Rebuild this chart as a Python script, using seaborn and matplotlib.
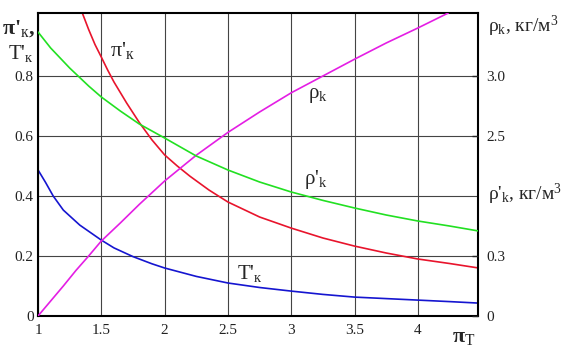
import numpy as np
import pandas as pd
import matplotlib
matplotlib.use("Agg")
import matplotlib.pyplot as plt
import seaborn as sns

# values
# pi'_k (left axis)
x_pik = [1.35, 1.4, 1.45, 1.5, 1.55, 1.6, 1.7, 1.8, 1.9, 2.0, 2.1, 2.2, 2.35, 2.5, 2.75, 3.0, 3.25, 3.5, 3.75, 4.0, 4.25, 4.48]
pik = [1.01, 0.955, 0.905, 0.863, 0.82, 0.78, 0.71, 0.645, 0.587, 0.537, 0.5, 0.466, 0.42, 0.38, 0.33, 0.293, 0.26, 0.233, 0.21, 0.19, 0.175, 0.16]

# T'_k (left axis)
x_tk = [1.0, 1.06, 1.12, 1.2, 1.33, 1.5, 1.6, 1.75, 1.9, 2.0, 2.25, 2.5, 2.75, 3.0, 3.25, 3.5, 3.75, 4.0, 4.25, 4.48]
tk = [0.487, 0.445, 0.40, 0.353, 0.303, 0.253, 0.227, 0.198, 0.174, 0.16, 0.132, 0.11, 0.095, 0.083, 0.072, 0.063, 0.058, 0.053, 0.048, 0.043]

# rho'_k, kg/m3 (right, lower scale)
x_rhop = [1.0, 1.1, 1.25, 1.4, 1.5, 1.65, 1.8, 2.0, 2.25, 2.5, 2.75, 3.0, 3.25, 3.5, 3.75, 4.0, 4.25, 4.48]
rhop = [1.42, 1.34, 1.24, 1.15, 1.095, 1.025, 0.96, 0.89, 0.80, 0.73, 0.67, 0.62, 0.578, 0.54, 0.505, 0.475, 0.45, 0.425]

# rho_k, kg/m3 (right, upper scale)
x_rho = [1.0, 1.1, 1.2, 1.3, 1.4, 1.5, 1.65, 1.8, 2.0, 2.25, 2.5, 2.75, 3.0, 3.25, 3.5, 3.75, 4.0, 4.24]
rho = [1.0, 1.125, 1.25, 1.38, 1.5, 1.625, 1.775, 1.93, 2.125, 2.34, 2.53, 2.70, 2.86, 3.0, 3.14, 3.275, 3.40, 3.525]

x_ticks = [1, 1.5, 2, 2.5, 3, 3.5, 4]
x_ticklabels = ["1", "1.5", "2", "2.5", "3", "3.5", "4"]
left_ticks = [0, 0.2, 0.4, 0.6, 0.8]
left_ticklabels = ["0", "0.2", "0.4", "0.6", "0.8"]
rho_ticks = [2.5, 3.0]
rhop_ticks = [0, 0.3]

sns.set_style("white")
plt.rcParams["font.family"] = ["Liberation Serif", "DejaVu Serif"]
plt.rcParams["mathtext.fontset"] = "custom"
plt.rcParams["mathtext.rm"] = "Liberation Serif"
plt.rcParams["mathtext.it"] = "Liberation Serif:italic"
plt.rcParams["mathtext.bf"] = "Liberation Serif:bold"

fig = plt.figure(figsize=(5.64, 3.55), dpi=100)
ax = fig.add_axes([38 / 564, 39 / 355, 440 / 564, 303 / 355])
ax_rho = ax.twinx()
ax_rhop = ax.twinx()

lw = 1.2
sns.lineplot(x=x_pik, y=pik, ax=ax, color="#e8142c", linewidth=lw)
sns.lineplot(x=x_tk, y=tk, ax=ax, color="#1515d0", linewidth=lw)
sns.lineplot(x=x_rhop, y=rhop, ax=ax_rhop, color="#22e022", linewidth=lw)
sns.lineplot(x=x_rho, y=rho, ax=ax_rho, color="#e41ee4", linewidth=lw)

top = 1.01
ax.set_xlim(1, 4.475)
ax.set_ylim(0, top)
ax_rho.set_ylim(1.0, 1.0 + 2.5 * top)
ax_rhop.set_ylim(0, 1.5 * top)

ax.set_xticks(x_ticks)
ax.set_xticklabels(x_ticklabels)
ax.set_yticks(left_ticks)
ax.set_yticklabels(left_ticklabels)
ax.grid(True, color="#444444", linewidth=0.8)
ax.tick_params(axis="both", length=0, labelsize=11, colors="#222222")
ax.tick_params(axis="x", pad=6)
ax.tick_params(axis="y", pad=3)

ax_rho.set_yticks(rho_ticks)
ax_rho.set_yticklabels(["2.5", "3.0"])
ax_rhop.set_yticks(rhop_ticks)
ax_rhop.set_yticklabels(["0", "0.3"])
for a in (ax_rho, ax_rhop):
    a.tick_params(axis="y", direction="in", length=4, width=1, labelsize=11, pad=6, colors="#222222")
    a.grid(False)
    for s in a.spines.values():
        s.set_visible(False)

for s in ax.spines.values():
    s.set_color("black")
    s.set_linewidth(1.5)

# axis titles
ax.text(-0.045, 0.95, r"π'$_{\mathrm{к}}$,", transform=ax.transAxes,
        ha="center", va="center", fontsize=16, fontweight="bold")
ax.text(-0.04, 0.865, r"T'$_{\mathrm{к}}$", transform=ax.transAxes,
        ha="center", va="center", fontsize=15)
ax.text(1.022, 0.955, r"ρ$_{\mathrm{k}}$, кг/м$^{3}$", transform=ax.transAxes,
        ha="left", va="center", fontsize=14)
ax.text(1.022, 0.40, r"ρ'$_{\mathrm{k}}$, кг/м$^{3}$", transform=ax.transAxes,
        ha="left", va="center", fontsize=14)
ax.text(0.968, -0.07, r"π$_{\mathrm{Т}}$", transform=ax.transAxes,
        ha="center", va="center", fontsize=16, fontweight="bold")

# curve labels
ax.text(1.67, 0.885, r"π'$_{\mathrm{к}}$", ha="center", va="center", fontsize=16)
ax.text(3.21, 0.735, r"ρ$_{\mathrm{k}}$", ha="center", va="center", fontsize=15)
ax.text(3.19, 0.455, r"ρ'$_{\mathrm{k}}$", ha="center", va="center", fontsize=15)
ax.text(2.67, 0.14, r"T'$_{\mathrm{к}}$", ha="center", va="center", fontsize=15)

fig.savefig("out.png", dpi=100)
